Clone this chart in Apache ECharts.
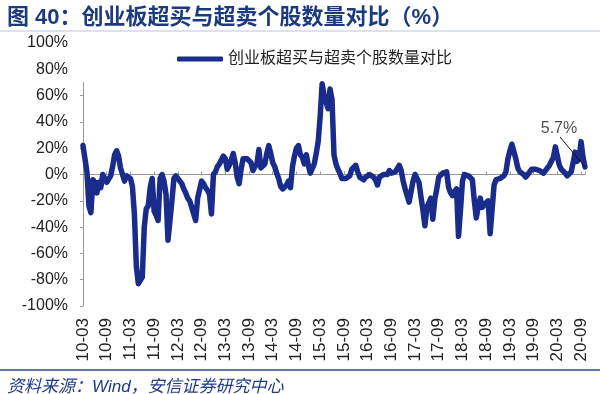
<!DOCTYPE html>
<html><head><meta charset="utf-8">
<script src="https://cdn.jsdelivr.net/npm/echarts@6/dist/echarts.min.js"></script>
<style>html,body{margin:0;padding:0;background:#fff}#c{width:600px;height:394px}</style>
</head><body><div id="c"></div>
<script>
// ---- data ----
const seriesName = '创业板超买与超卖个股数量对比';
const tickLabels = ['10-03','10-09','11-03','11-09','12-03','12-09','13-03','13-09','14-03','14-09','15-03','15-09','16-03','16-09','17-03','17-09','18-03','18-09','19-03','19-09','20-03','20-09'];
const stepMonths = 0.5; // half-month sampling starting 2010-03
const values = [
22,22,2,-24,-29,-4,-6,-14,-6,-10,0,-3,-6,-5,-1,6,15,18,14,5,
0,-5,-1,-2,-3,-9,-30,-70,-83,-84,-78,-40,-26,-24,-10,-3,-28,-31,-35,-3,
0,-5,-15,-50,-50,-20,-3,-1,-2,-5,-7,-11,-14,-18,-20,-25,-30,-35,-18,-17,
-5,-7,-10,-12,-15,-30,0,2,6,8,9,14,12,4,7,11,16,9,-2,-7,
4,12,11,12,13,9,3,6,8,19,5,4,8,16,22,16,9,6,1,-3,
-9,-11,-10,-8,-5,-10,6,14,20,22,15,13,8,15,7,1,1,8,16,25,
44,69,60,55,50,65,57,15,8,4,1,-3,-2,-3,-3,-1,4,5,7,2,
-2,-3,-4,-2,-1,0,-1,-2,-4,-8,-2,-1,0,1.5,0,3,1,2,2,3,
7,3,-5,-11,-10,-21,-13,-5,0,0,-6,-17,-27,-39,-25,-24,-18,-34,-19,-11,
-2,-1,1,2,2,-10,-14,-16,-13,-11,-47,-27,-5,0,0,-1,-2,-4,-20,-33,
-24,-18,-25,-23,-24,-20,-45,-45,-8,-4,-3,-3,-2,-1,2,12,18,23,23,12,
5,2,1,0,-2,0,2,4,5,4,4,3,2,1,3,5,7,10,13,21,
14,7,4,3,1,-1,-1,2,9,17,10,12,25,13,5.7
];
const lastLabel = '5.7%';

// ---- build ----
const seriesData = values.map((v, i) => [i * stepMonths, v]);
const xMax = (values.length - 1) * stepMonths;
const lastPoint = seriesData[seriesData.length - 1];

const navy = '#192c8c';
const font = '"Liberation Sans", Arial, "Noto Sans CJK SC", sans-serif';
const chart = echarts.init(document.getElementById('c'), null, {renderer: 'canvas'});
const baseGraphic = [
  {type: 'line', shape: {x1: 0, y1: 31, x2: 600, y2: 31}, style: {stroke: '#b8c4dc', lineWidth: 1}},
  {type: 'line', shape: {x1: 0, y1: 370, x2: 600, y2: 370}, style: {stroke: '#2a4a8f', lineWidth: 1.5}},
  {type: 'rect', shape: {x: 76, y: 36, width: 14, height: 46}, style: {fill: '#fff'}, z: 100}
];
chart.setOption({
  animation: false,
  textStyle: {fontFamily: font},
  title: [{
    text: '图 40：创业板超买与超卖个股数量对比（%）',
    left: 2, top: 2,
    textStyle: {fontSize: 22, fontWeight: 'bold', color: '#1c3a80', fontFamily: font}
  }, {
    text: '资料来源：Wind，安信证券研究中心',
    left: 2, top: 374,
    textStyle: {fontSize: 17, fontWeight: 'normal', fontStyle: 'italic', color: '#1f3a8a', fontFamily: font}
  }],
  graphic: baseGraphic,
  legend: {
    data: [seriesName],
    left: 172, top: 46,
    icon: 'roundRect', itemWidth: 46, itemHeight: 5, itemGap: 10,
    textStyle: {fontSize: 16, color: '#222', fontFamily: font}
  },
  grid: {left: 83, right: 15, top: 43, bottom: 88, containLabel: false},
  xAxis: [{
    type: 'value', min: 0, max: xMax, interval: 6, position: 'bottom',
    axisLine: {show: true, onZero: true, lineStyle: {color: '#999', width: 1}},
    axisTick: {show: true, inside: true, length: 3, lineStyle: {color: '#999'}},
    axisLabel: {show: false}, splitLine: {show: false}
  }, {
    type: 'value', min: 0, max: xMax, interval: 6, position: 'bottom',
    axisLine: {show: false, onZero: false}, axisTick: {show: false}, splitLine: {show: false},
    axisLabel: {
      rotate: 90, margin: 12, fontSize: 17, color: '#222', fontFamily: font,
      formatter: v => (v % 6 === 0 && tickLabels[v / 6]) ? tickLabels[v / 6] : ''
    }
  }],
  yAxis: {
    type: 'value', min: -100, max: 100, interval: 20,
    axisLine: {show: true, lineStyle: {color: '#999', width: 1}},
    axisTick: {show: true, length: 3, lineStyle: {color: '#999'}},
    splitLine: {show: false},
    axisLabel: {formatter: '{value}%', fontSize: 16, color: '#222', margin: 15, fontFamily: font}
  },
  series: [{
    name: seriesName, type: 'line', xAxisIndex: 0, data: seriesData,
    showSymbol: false, symbol: 'none',
    lineStyle: {color: navy, width: 5.5, join: 'round', cap: 'round'},
    itemStyle: {color: navy}, z: 3
  }, {
    name: 'annotation', type: 'scatter', xAxisIndex: 0, data: [lastPoint],
    symbolSize: 1, itemStyle: {color: 'rgba(0,0,0,0)'}, silent: true, z: 5,
    label: {show: true, formatter: lastLabel, position: 'inside', offset: [-26, -38], fontSize: 16, color: '#222', fontFamily: font}
  }]
});
// leader line from the annotation text to the last data point (pixel position from the axes)
const p = chart.convertToPixel({xAxisIndex: 0, yAxisIndex: 0}, lastPoint);
chart.setOption({
  graphic: baseGraphic.concat([{
    type: 'line', z: 50,
    shape: {x1: p[0] - 25, y1: p[1] - 30, x2: p[0], y2: p[1]},
    style: {stroke: '#111', lineWidth: 1}
  }])
});
</script></body></html>
